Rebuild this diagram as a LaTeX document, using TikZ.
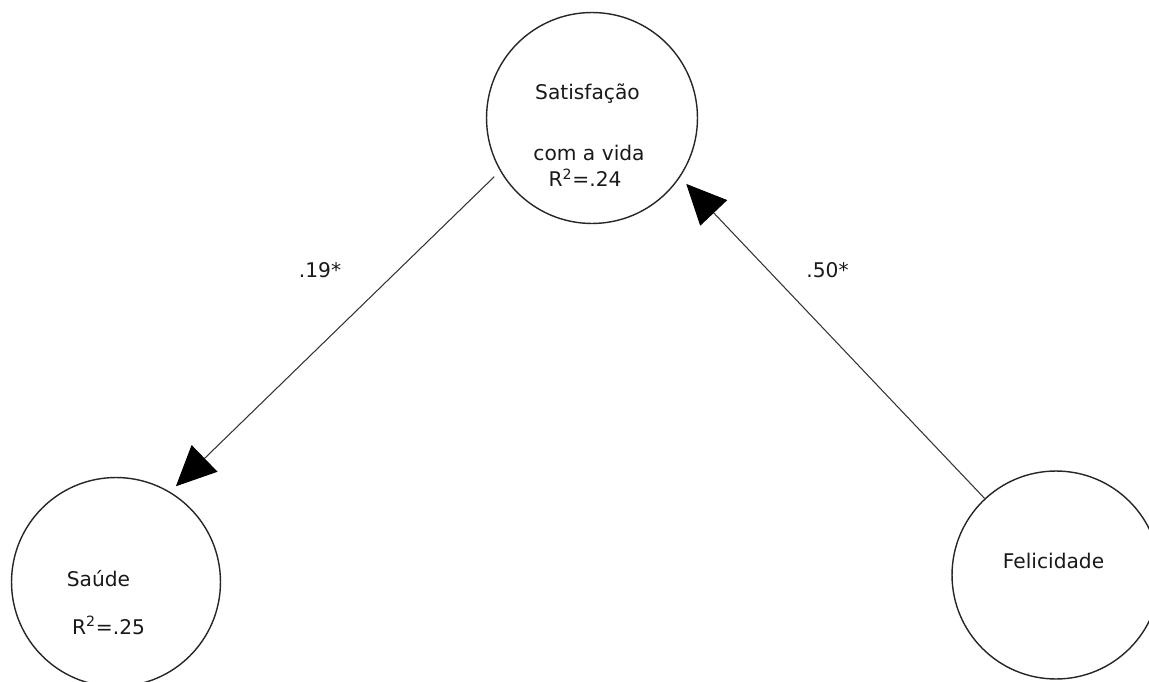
\documentclass[tikz,border=0pt]{standalone}
\usepackage{fontspec}
\setmainfont{DejaVu Sans}
\usetikzlibrary{arrows.meta}

\begin{document}
\begin{tikzpicture}[
        x=0.02cm, y=-0.02cm,
        font=\fontsize{11.5}{14}\selectfont,
        latent/.style={circle, draw=black!85, line width=0.8pt, inner sep=0pt},
        txt/.style={anchor=base, inner sep=0pt, text=black!90},
        effect/.style={line width=0.6pt, draw=black!80, -{Triangle[length=0.8cm, width=0.74cm, color=black]}}
    ]
        \useasboundingbox (0,0) rectangle (1149,682);
        \clip (0,0) rectangle (1149,682);

        % latent variables
        \node[latent, minimum size=4.22cm] (satisf) at (592,118) {};
        \node[latent, minimum size=4.18cm] (saude) at (116,582) {};
        \node[latent, minimum size=4.16cm] (felic) at (1056,575) {};

        % texts inside the circles
        \node[txt] (satisf-l1) at (587.5,100) {Satisfação};
        \node[txt] (satisf-l2) at (589,161) {com a vida};
        \node[txt] (satisf-l3) at (585,187) {R\textsuperscript{2}=.24};
        \node[txt] (saude-l1) at (98.5,586) {Saúde};
        \node[txt] (saude-l2) at (108.5,634) {R\textsuperscript{2}=.25};
        \node[txt] (felic-l1) at (1053.5,568) {Felicidade};

        % paths
        \draw[effect, shorten <=0.16cm, shorten >=0.16cm] (satisf.210) -- (saude.59);
        \draw[effect, shorten >=0.18cm] (felic.133) -- (satisf.-34);

        \node[txt] (coef-a) at (320,277) {.19*};
        \node[txt] (coef-b) at (827.5,277) {.50*};
    \end{tikzpicture}
\end{document}
